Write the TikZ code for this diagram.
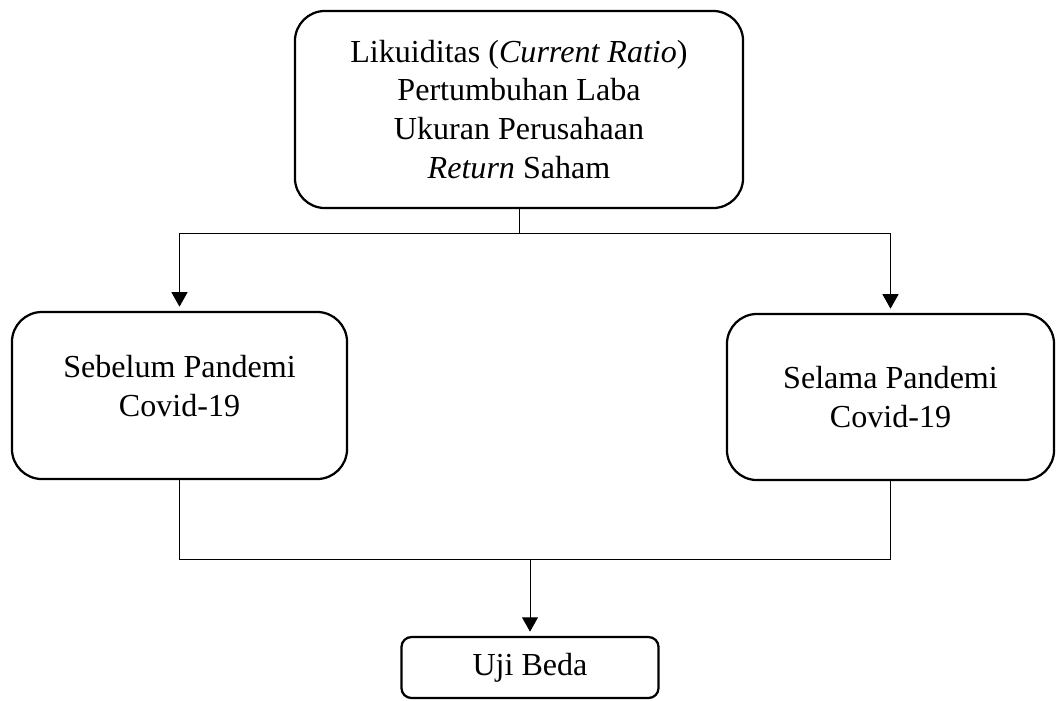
\documentclass[tikz,border=0pt]{standalone}
\usepackage{fontspec}
\setmainfont{Liberation Serif}
\usepackage{xcolor}
\usetikzlibrary{calc,arrows.meta}
\definecolor{ink}{HTML}{000000}
\tikzset{
  box/.style={draw=ink, line width=1.6pt, rounded corners=0.75cm, align=center,
    text=ink, inner sep=0pt, font=\fontsize{22.8pt}{27.7pt}\selectfont},
  link/.style={draw=ink, line width=0.7pt},
  arr/.style={link, -{Triangle[width=0.4cm,length=0.36cm]}, shorten >=3pt}
}

\begin{document}
\begin{tikzpicture}[x=0.025cm, y=-0.025cm]
  \useasboundingbox (0,0) rectangle (1056,700);

  \node[box, minimum width=11.2cm, minimum height=4.925cm] (vars) at (519,109.5)
    {Likuiditas (\textit{Current Ratio})\\Pertumbuhan Laba\\Ukuran Perusahaan\\\textit{Return} Saham};

  \node[box, minimum width=8.375cm, minimum height=4.175cm, text depth=0.5cm] (before) at (179.5,395.5)
    {Sebelum Pandemi\\Covid-19};
  \node[box, minimum width=8.175cm, minimum height=4.15cm] (during) at (890.5,397)
    {Selama Pandemi\\Covid-19};

  \node[box, rounded corners=0.25cm, minimum width=6.425cm, minimum height=1.525cm] (test) at (530,667.5)
    {Uji Beda};

  % branching points
  \coordinate (fork) at ($(vars.south)+(0,24)$);
  \coordinate (join) at ($(test.north)+(0,-76)$);

  \draw[link] (vars.south) -- (fork);
  \draw[arr] (fork) -| (before.north);
  \draw[arr] (fork) -| (during.north);

  \draw[link] (before.south) |- (join);
  \draw[link] (during.south) |- (join);
  \draw[arr] (join) -- (test.north);
\end{tikzpicture}
\end{document}
